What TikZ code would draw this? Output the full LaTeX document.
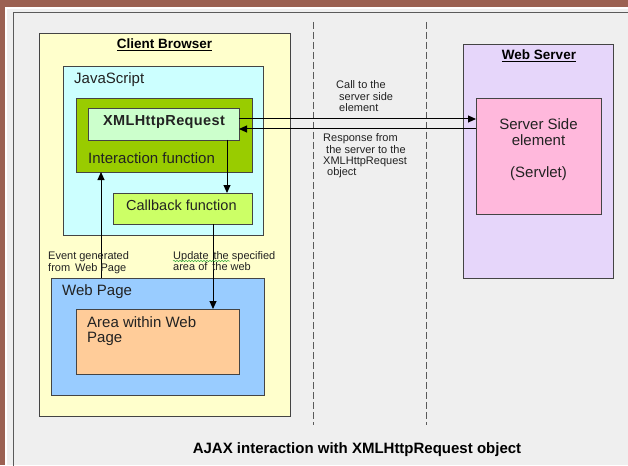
\documentclass[tikz,border=0pt]{standalone}
\usepackage{fontspec}
\setmainfont{Liberation Sans}
\usetikzlibrary{arrows.meta,decorations.pathmorphing}

\definecolor{brownframe}{HTML}{9B6152}
\definecolor{pagebg}{HTML}{EFEFEF}
\definecolor{frameline}{HTML}{5A5A5A}
\definecolor{boxline}{HTML}{444444}
\definecolor{clientfill}{HTML}{FFFFCC}
\definecolor{jsfill}{HTML}{CCFFFF}
\definecolor{interfill}{HTML}{99CC00}
\definecolor{xhrfill}{HTML}{CCFFCC}
\definecolor{callbackfill}{HTML}{CCFF66}
\definecolor{webpagefill}{HTML}{99CCFF}
\definecolor{areafill}{HTML}{FFCC99}
\definecolor{serverfill}{HTML}{E6D6FA}
\definecolor{servletfill}{HTML}{FFB8DC}
\definecolor{textcol}{HTML}{222222}
\definecolor{spellgreen}{HTML}{3FAF3F}

% multi-line text whose baseline is that of its first line
\newcommand\linesof[2]{\begin{tabular}[t]{@{}#1@{}}#2\end{tabular}}

\tikzset{
  box/.style={draw=boxline, line width=0.9pt, anchor=north west,
              inner sep=0pt, outer sep=0pt},
  lbl/.style={anchor=base west, inner sep=0pt, text=textcol,
              font=\fontsize{15}{15}\selectfont},
  small/.style={anchor=base west, inner sep=0pt, text=textcol,
                font=\fontsize{11}{11.5}\selectfont},
  title/.style={anchor=base, inner sep=0pt, text=black,
                font=\fontsize{13.5}{14}\selectfont\bfseries},
  arr/.style={line width=1pt, -{Triangle[length=8pt,width=7pt]}},
  divider/.style={draw=frameline, line width=1pt, dash pattern=on 7pt off 3pt}
}

\begin{document}
\begin{tikzpicture}[x=1pt, y=-1pt]
  \useasboundingbox (0,0) rectangle (628,465);
  % page frame
  \fill[brownframe] (0,0) rectangle (628,465);
  \fill[white] (5,7) rectangle (628,465);
  \fill[pagebg] (7,9) rectangle (628,465);
  \draw[frameline, line width=1.6pt] (13.5,466) -- (13.5,12.5) -- (629,12.5);

  % tier dividers
  \coordinate (d1t) at (313,22);  \coordinate (d1b) at (313,425);
  \coordinate (d2t) at (426,22);  \coordinate (d2b) at (426,425);
  \draw[divider] (d1t) -- (d1b);
  \draw[divider] (d2t) -- (d2b);

  % client side
  \node[box, fill=clientfill, minimum width=251, minimum height=383] (client) at (39,33) {};
  \node[title] (clienttitle) at (164.5,49) {\underline{Client Browser}};
  \node[box, fill=jsfill, minimum width=200, minimum height=169] (js) at (63,66) {};
  \node[lbl] (jslbl) at (74,84) {JavaScript};
  \node[box, fill=interfill, minimum width=176, minimum height=74] (inter) at (76,98) {};
  \node[box, fill=xhrfill, minimum width=151, minimum height=32] (xhr) at (88,108) {};
  \node[anchor=base, inner sep=0pt, text=textcol,
        font=\fontsize{14.5}{15}\selectfont\bfseries] (xhrlbl) at (164,126)
        {X\kern0.4pt M\kern0.4pt L\kern0.4pt H\kern0.4pt t\kern0.4pt t\kern0.4pt p\kern0.4pt R\kern0.4pt e\kern0.4pt q\kern0.4pt u\kern0.4pt e\kern0.4pt s\kern0.4pt t};
  \node[lbl] (interlbl) at (88,164) {Interaction function};
  \node[box, fill=callbackfill, minimum width=139, minimum height=31] (callback) at (113,193) {};
  \node[lbl, font=\fontsize{14.5}{15}\selectfont] (callbacklbl) at (126,210) {Callback function};
  \node[box, fill=webpagefill, minimum width=213, minimum height=117] (webpage) at (51,278) {};
  \node[lbl] (webpagelbl) at (62,295) {Web Page};
  \node[box, fill=areafill, minimum width=163, minimum height=65] (area) at (76,309) {};
  \node[lbl] (arealbl) at (87,327) {\linesof{l}{Area within Web\\Page}};

  % server side
  \node[box, fill=serverfill, minimum width=150, minimum height=234] (server) at (463,44) {};
  \node[title] (servertitle) at (539,60) {\underline{Web Server}};
  \node[box, fill=servletfill, minimum width=125, minimum height=116] (servlet) at (476,98) {};
  \node[anchor=base, inner sep=0pt, text=textcol,
        font=\fontsize{15}{15}\selectfont] (servletlbl) at (538.5,130)
        {\linesof{c}{Server Side\\element\\[17pt](Servlet)}};

  % request / response
  \draw[arr] ([yshift=5pt]xhr.east) -- ([yshift=5pt]xhr.east -| servlet.west);
  \draw[arr] ([yshift=-5pt]xhr.east -| servlet.west) -- ([yshift=-5pt]xhr.east);

  % flow inside the browser
  \draw[arr] ([xshift=-12pt]xhr.south east) -- ([xshift=-12pt]xhr.south east |- callback.north);
  \draw[arr] ([xshift=50pt]webpage.north west) -- ([xshift=50pt]webpage.north west |- inter.south);
  \draw[arr] ([xshift=-39pt]callback.south east) -- ([xshift=-39pt]callback.south east |- area.north);

  % annotations
  \node[small, font=\fontsize{11}{11.5}\selectfont] (calllbl) at (336,89)
        {\linesof{l}{Call to the\\\hspace*{3pt}server side\\\hspace*{3pt}element}};
  \node[small, font=\fontsize{11}{11}\selectfont] (resplbl) at (323,142)
        {\linesof{l}{Response from\\\hspace*{3pt}the server to the\\XMLHttpRequest\\\hspace*{4pt}object}};
  \node[small, font=\fontsize{11}{12}\selectfont] (eventlbl) at (48,259)
        {\linesof{l}{Event generated\\from\, Web Page}};
  \node[small, font=\fontsize{11}{10.5}\selectfont] (updatelbl) at (173,259)
        {\linesof{l}{Update\, the specified\\area of\, the web}};
  \draw[spellgreen, line width=0.5pt, decorate,
        decoration={snake, amplitude=0.7pt, segment length=3pt}]
        ([yshift=-2pt]updatelbl.base west) -- ++(57,0);

  % caption
  \node[anchor=base, inner sep=0pt, text=black,
        font=\fontsize{15}{15}\selectfont\bfseries] (caption) at (357,453)
        {AJAX interaction with XMLHttpRequest object};
\end{tikzpicture}
\end{document}
